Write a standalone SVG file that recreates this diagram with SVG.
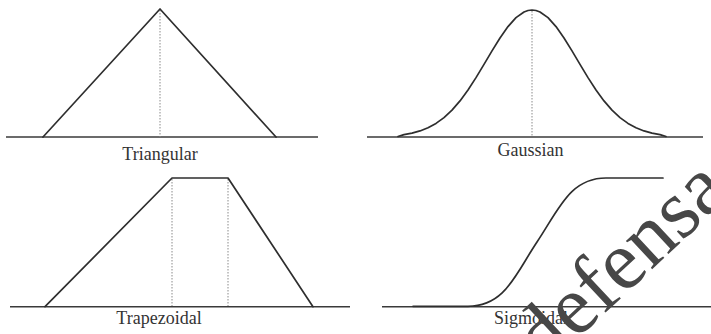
<svg xmlns="http://www.w3.org/2000/svg" width="711" height="334" viewBox="0 0 711 334">
<style>
.axis{stroke:#3a3a3a;stroke-width:1.6;fill:none}
.curve{stroke:#2e2e2e;stroke-width:1.7;fill:none;stroke-linejoin:round;stroke-linecap:round}
.guide{stroke:#8a8a8a;stroke-width:1;stroke-dasharray:1.5 1.5;fill:none}
.lbl{font-family:"Liberation Serif","Times New Roman",serif;font-size:18px;fill:#333;text-anchor:middle}
.wm{font-family:"Liberation Serif","Times New Roman",serif;font-size:84px;fill:#474747}
</style>
<rect width="711" height="334" fill="#fff"/>
<g id="triangular">
<line class="axis" x1="6" y1="137" x2="318" y2="137"/>
<line class="guide" x1="160" y1="10" x2="160" y2="137"/>
<polyline class="curve" points="43,137 160,9 276,137"/>
<text class="lbl" x="160" y="160">Triangular</text>
</g>
<g id="gaussian">
<line class="axis" x1="367" y1="137" x2="703" y2="137"/>
<line class="guide" x1="532" y1="11" x2="532" y2="137"/>
<polyline class="curve" points="398,136.5 404,134.61 412,133.14 420,130.94 428,127.79 436,123.42 444,117.59 452,110.11 460,100.89 468,89.98 476,77.65 484,64.38 492,50.86 500,37.94 508,26.56 516,17.65 524,11.96 528,10.5 532,10 536,10.5 540,11.96 548,17.65 556,26.56 564,37.94 572,50.86 580,64.38 588,77.65 596,89.98 604,100.89 612,110.11 620,117.59 628,123.42 636,127.79 644,130.94 652,133.14 660,134.61 666,136.5"/>
<text class="lbl" x="530.5" y="156">Gaussian</text>
</g>
<g id="trapezoidal">
<line class="axis" x1="10" y1="306.7" x2="350" y2="306.7"/>
<line class="guide" x1="172" y1="179" x2="172" y2="306"/>
<line class="guide" x1="228" y1="179" x2="228" y2="306"/>
<polyline class="curve" points="45,306.7 172,178 228,178 313,306.7"/>
<text class="lbl" x="159" y="324">Trapezoidal</text>
</g>
<g id="sigmoidal">
<line class="axis" x1="382" y1="306.7" x2="711" y2="306.7"/>
<path class="curve" d="M413,306.3 L468,306.3 C505,306.3 515,275 537,242 C559,209 570,178 606,178 L663,178"/>
<text class="lbl" x="531" y="324">Sigmoidal</text>
</g>
<text class="wm" transform="translate(545,369) rotate(-43)">defensa</text>
</svg>
